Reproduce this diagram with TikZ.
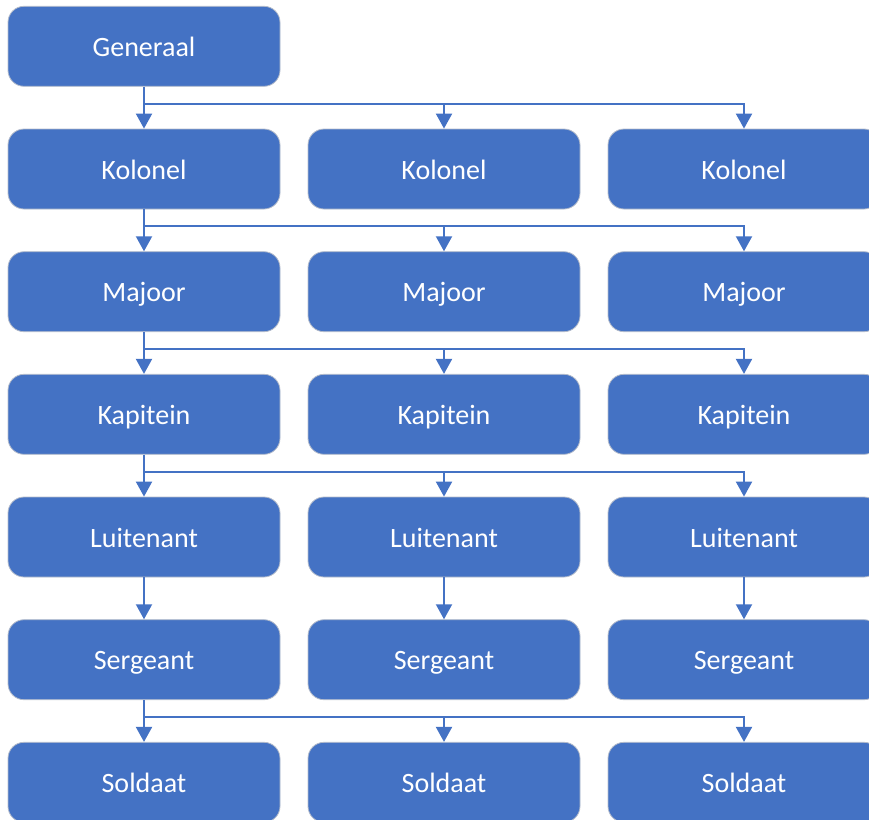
\documentclass[tikz,border=0pt]{standalone}
\usepackage{fontspec}
\setmainfont{Carlito}
\usetikzlibrary{arrows.meta,calc}
\definecolor{boxblue}{HTML}{4472C4}
\definecolor{boxedge}{HTML}{B4BCCB}
\begin{document}
\begin{tikzpicture}[x=1pt,y=-1pt,
  rank/.style={draw=boxedge,line width=0.8pt,fill=boxblue,rounded corners=16pt,
    minimum width=272pt,minimum height=80pt,inner sep=0pt,text=white,
    text height=20pt,text depth=0pt,
    font=\fontsize{28}{34}\selectfont},
  conn/.style={draw=boxblue,line width=2pt,-{Triangle[width=16pt,length=15pt]}}]
\useasboundingbox (0,0) rectangle (869,819);
\def\rA{46.3}\def\rB{169}\def\rC{291.7}\def\rD{414.3}\def\rE{537}\def\rF{659.7}\def\rG{782.3}
\node[rank] (g) at (144,\rA) {Generaal};
\foreach \c/\x in {1/144,2/444,3/744}{
  \node[rank] (k\c) at (\x,\rB) {Kolonel};
  \node[rank] (m\c) at (\x,\rC) {Majoor};
  \node[rank] (p\c) at (\x,\rD) {Kapitein};
  \node[rank] (l\c) at (\x,\rE) {Luitenant};
  \node[rank] (s\c) at (\x,\rF) {Sergeant};
  \node[rank] (o\c) at (\x,\rG) {Soldaat};
}
% fan-out connectors
\foreach \pa/\ch in {g/k,k1/m,m1/p,p1/l,s1/o}{
  \coordinate (\pa-b) at ($(\pa.south)+(0,17)$);
  \draw[conn] (\pa.south) -- (\ch1.north);
  \draw[conn] (\pa-b) -| (\ch2.north);
  \draw[conn] (\pa-b) -| (\ch3.north);
}
% straight connectors
\foreach \c in {1,2,3}{
  \draw[conn] (l\c.south) -- (s\c.north);
}
\end{tikzpicture}
\end{document}
